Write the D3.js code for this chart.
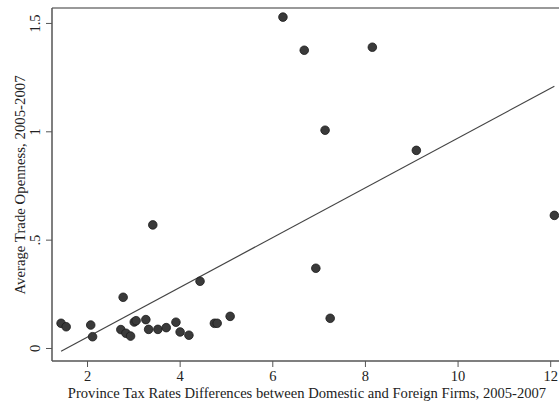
<!DOCTYPE html>
<html>
<head>
<meta charset="utf-8">
<script src="https://cdn.jsdelivr.net/npm/d3@7"></script>
<style>
  html, body { margin: 0; padding: 0; background: #fff; }
  svg { display: block; }
  text { font-family: "Liberation Serif", "Times New Roman", serif; fill: #222; }
</style>
</head>
<body>
<svg id="chart" width="559" height="404"></svg>
<script>
// Province-level tax rate gap (domestic vs foreign firms) against trade openness
const taxDiff = [1.44, 1.55, 2.08, 2.12, 2.78, 2.73, 2.84, 2.94, 3.02, 3.06,
                 3.27, 3.33, 3.42, 3.53, 3.71, 3.92, 4.01, 4.20, 4.44, 4.75,
                 4.81, 5.09, 6.23, 6.69, 8.16, 7.14, 9.11, 6.94, 7.25, 12.09];
const openness = [0.114, 0.098, 0.106, 0.052, 0.234, 0.085, 0.068, 0.055, 0.120, 0.126,
                  0.131, 0.086, 0.568, 0.086, 0.094, 0.119, 0.074, 0.059, 0.308, 0.114,
                  0.114, 0.146, 1.527, 1.374, 1.388, 1.005, 0.912, 0.368, 0.137, 0.612];
const xTicks = [2, 4, 6, 8, 10, 12];
const yTicks = [0, 0.5, 1, 1.5];
const yTickLabels = ["0", ".5", "1", "1.5"];
const xTitle = "Province Tax Rates Differences between Domestic and Foreign Firms, 2005-2007";
const yTitle = "Average Trade Openness, 2005-2007";

const svg = d3.select("#chart");
const plotL = 52, plotR = 559, plotT = 8, plotB = 361;

const x = d3.scaleLinear().domain([1.244, 12.19]).range([plotL, plotR]);
const y = d3.scaleLinear().domain([-0.06, 1.569]).range([plotB, plotT]);

// Least-squares fit over the data
const n = taxDiff.length;
const mx = d3.mean(taxDiff), my = d3.mean(openness);
let sxy = 0, sxx = 0;
for (let i = 0; i < n; i++) {
  sxy += (taxDiff[i] - mx) * (openness[i] - my);
  sxx += (taxDiff[i] - mx) ** 2;
}
const slope = sxy / sxx, intercept = my - slope * mx;
const [xmin, xmax] = d3.extent(taxDiff);

// Plot frame: top edge
svg.append("line").attr("x1", plotL).attr("x2", plotR).attr("y1", plotT).attr("y2", plotT)
  .attr("stroke", "#777").attr("stroke-width", 1.5);

// Axes
const axisColor = "#555";
const xAxis = svg.append("g").attr("transform", `translate(0,${plotB})`)
  .call(d3.axisBottom(x).tickValues(xTicks).tickSize(6).tickPadding(3).tickFormat(d3.format("d")));
const yAxis = svg.append("g").attr("transform", `translate(${plotL},0)`)
  .call(d3.axisLeft(y).tickValues(yTicks).tickSize(6).tickPadding(3)
    .tickFormat((d, i) => yTickLabels[i]));

[xAxis, yAxis].forEach(g => {
  g.select(".domain").attr("stroke", axisColor).attr("stroke-width", 1.5);
  g.selectAll(".tick line").attr("stroke", axisColor).attr("stroke-width", 1);
  g.selectAll(".tick text").attr("font-family", "Liberation Serif, serif")
    .attr("font-size", 14.5).attr("fill", "#222");
});
xAxis.select(".domain").attr("d", `M${plotL},0H${plotR}`);
yAxis.select(".domain").attr("d", `M0,${plotT}V${plotB}`);
xAxis.selectAll(".tick text").attr("dy", "0.75em");

// Rotated y tick labels
yAxis.selectAll(".tick text")
  .attr("text-anchor", "middle")
  .attr("x", 0).attr("y", 0).attr("dy", "0.35em")
  .attr("transform", "translate(-17,0) rotate(-90)");

// Fitted line
svg.append("line")
  .attr("x1", x(xmin)).attr("y1", y(intercept + slope * xmin))
  .attr("x2", x(xmax)).attr("y2", y(intercept + slope * xmax))
  .attr("stroke", "#444").attr("stroke-width", 1.2);

// Scatter points
svg.append("g").selectAll("circle")
  .data(taxDiff.map((d, i) => [d, openness[i]]))
  .join("circle")
  .attr("cx", d => x(d[0])).attr("cy", d => y(d[1]))
  .attr("r", 4.3)
  .attr("fill", "#3a3a3a").attr("stroke", "#1a1a1a").attr("stroke-width", 0.8);

// Axis titles
svg.append("text")
  .attr("x", 307).attr("y", 398)
  .attr("text-anchor", "middle").attr("font-size", 14.6)
  .text(xTitle);
svg.append("text")
  .attr("transform", `translate(20,185) rotate(-90)`)
  .attr("text-anchor", "middle").attr("dy", "0.35em").attr("font-size", 14.8)
  .text(yTitle);
</script>
</body>
</html>
